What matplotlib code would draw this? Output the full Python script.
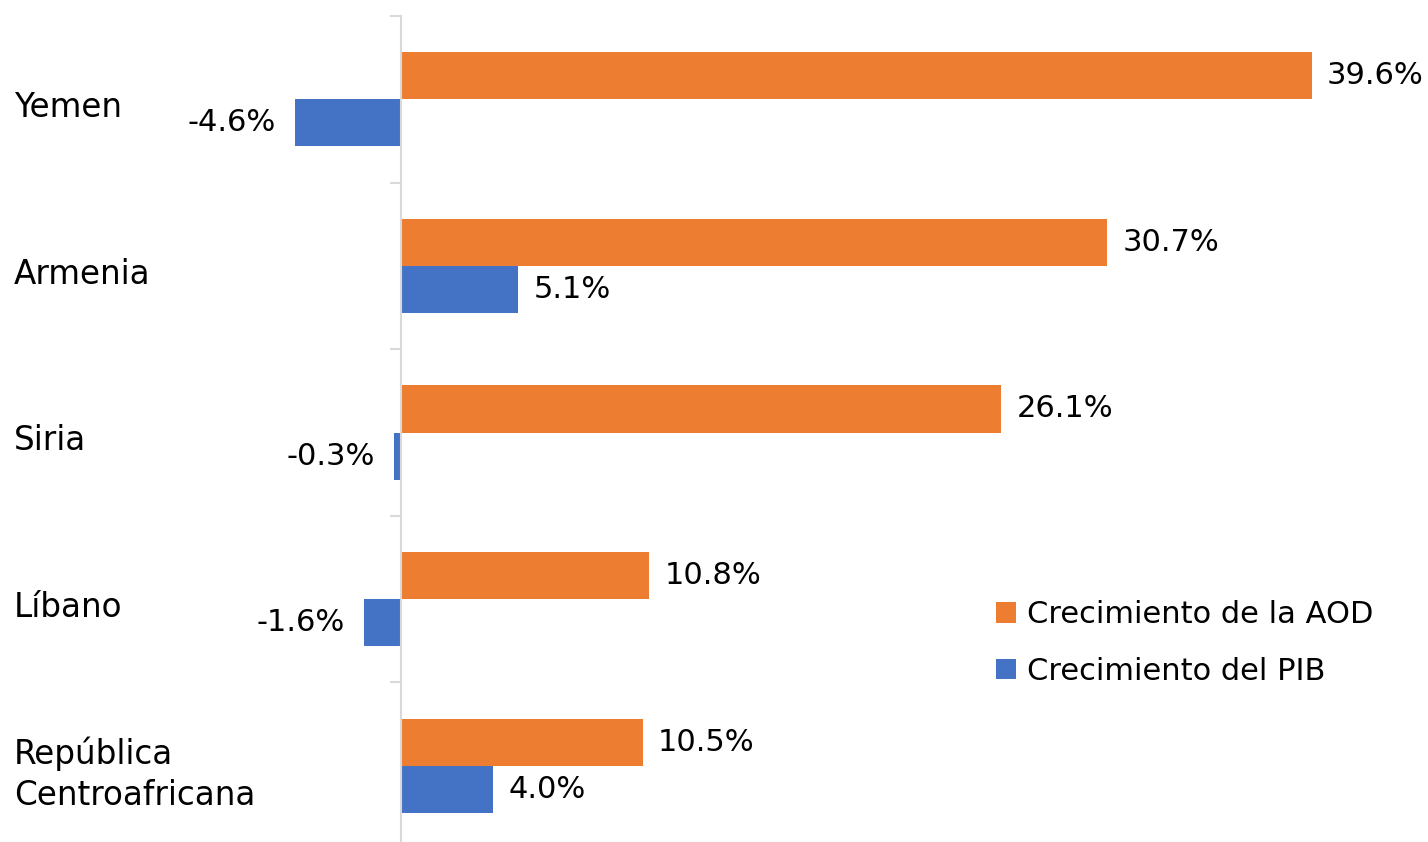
import numpy as np
import matplotlib.pyplot as plt
import matplotlib.transforms as mtransforms

plt.rcParams["font.family"] = ["DejaVu Sans"]

paises = ["Yemen", "Armenia", "Siria", "Líbano", "República\nCentroafricana"]
aod = [39.6, 30.7, 26.1, 10.8, 10.5]
pib = [-4.6, 5.1, -0.3, -1.6, 4.0]

naranja = "#ED7D31"
azul = "#4472C4"
fs = 22

W, H = 1428, 842
fig = plt.figure(figsize=(W / 100, H / 100), dpi=100)
# zero line at x=401px, 23 px per percent
left_px, right_px = 170, 1420
ppu = 23.0
ax = fig.add_axes([left_px / W, (H - 849) / H, (right_px - left_px) / W, 833 / H])
ax.set_xlim(-(401 - left_px) / ppu, (right_px - 401) / ppu)
ax.set_ylim(len(paises) - 0.5, -0.5)

y = np.arange(len(paises))
h = 0.283
b1 = ax.barh(y - h / 2, aod, height=h, color=naranja, label="Crecimiento de la AOD")
b2 = ax.barh(y + h / 2, pib, height=h, color=azul, label="Crecimiento del PIB")

for rect, v in zip(b1, aod):
    ax.annotate(f"{v:.1f}%", (v, rect.get_y() + rect.get_height() / 2),
                xytext=(11, 0), textcoords="offset points", va="center", ha="left", fontsize=fs)
for rect, v in zip(b2, pib):
    if v >= 0:
        ax.annotate(f"{v:.1f}%", (v, rect.get_y() + rect.get_height() / 2),
                    xytext=(11, 0), textcoords="offset points", va="center", ha="left", fontsize=fs)
    else:
        ax.annotate(f"{v:.1f}%", (v, rect.get_y() + rect.get_height() / 2),
                    xytext=(-14, 0), textcoords="offset points", va="center", ha="right", fontsize=fs)

for s in ["top", "right", "bottom"]:
    ax.spines[s].set_visible(False)
ax.spines["left"].set_position(("data", 0))
ax.spines["left"].set_color("#D9D9D9")
ax.spines["left"].set_linewidth(1.5)
ax.set_xticks([])
ax.set_yticks([])
ax.set_yticks(np.arange(-0.5, len(paises), 1), minor=True)
ax.tick_params(axis="y", which="minor", length=8, width=1.5, color="#D9D9D9", direction="out")

trans = mtransforms.blended_transform_factory(fig.transFigure, ax.transData)
for i, p in enumerate(paises):
    ax.text(14 / W, i + 0.05, p, transform=trans, ha="left", va="center", fontsize=23.5, linespacing=1.3)

ax.legend(loc="upper left", bbox_to_anchor=(984 / W, 1 - 588 / H), bbox_transform=fig.transFigure,
          frameon=False, fontsize=fs, handlelength=0.65, handleheight=0.65, handletextpad=0.35,
          labelspacing=0.9, borderaxespad=0)

fig.savefig("out.png", dpi=100)
